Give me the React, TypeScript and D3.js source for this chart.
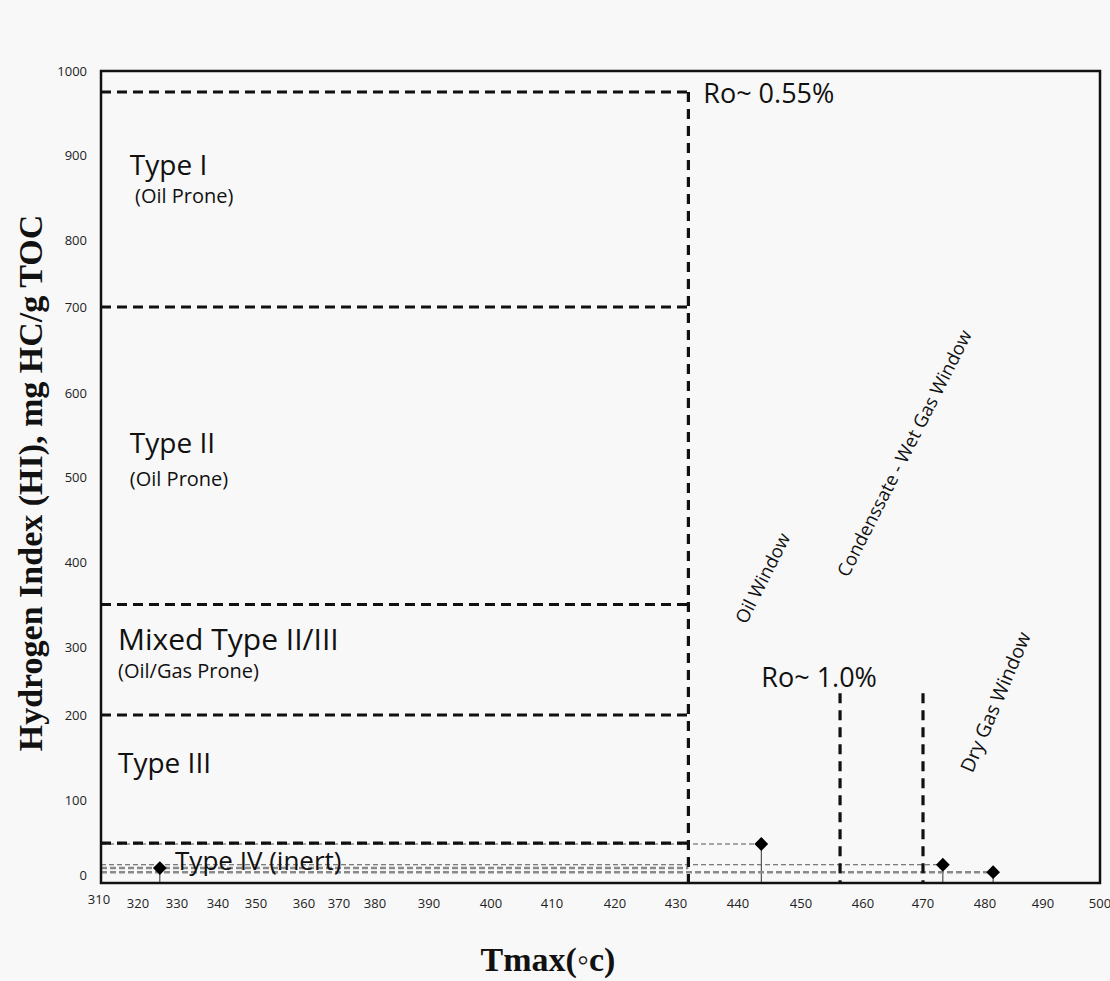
import React from 'react';
import * as d3 from 'd3';

// ---------- data ----------
const xTickValues = [310, 320, 330, 340, 350, 360, 370, 380, 390, 400, 410, 420, 430, 440, 450, 460, 470, 480, 490, 500];
const yTickValues = [0, 100, 200, 300, 400, 500, 600, 700, 800, 900, 1000];

// kerogen type boundaries (HI, mg HC/g TOC)
const typeBoundaries = [975, 700, 350, 200, 48];
// Ro ~ 0.55% boundary (Tmax)
const roStartTmax = 432;
// Ro ~ 1.0% window boundaries (Tmax) and their top (HI)
const windowLinesTmax = [456.3, 470];
const windowLineTopHI = 232;

// samples
const sampleTmax = [325.6, 443.7, 473.2, 481.4];
const sampleHI = [18, 47, 22, 13];

// annotation texts
const typeLabels = ['Type I', 'Type II', 'Mixed Type II/III', 'Type III', 'Type IV (inert)'];
const typeSubLabels = ['(Oil Prone)', '(Oil Prone)', '(Oil/Gas Prone)'];
const windowLabels = ['Oil Window', 'Condenssate - Wet Gas Window', 'Dry Gas Window'];

// ---------- layout ----------
const W = 1110;
const H = 981;
const F = { left: 101, top: 71, right: 1100, bottom: 883 };
// hand-placed tick label positions of the original figure (px from frame left / bottom)
const xTickPx = [0, 37, 76, 117, 155, 203, 238, 274, 328, 390, 451, 514, 575, 637, 700, 762, 822, 884, 942, 999];
const yTickPx = [0, 83, 168, 236, 321, 406, 490, 576, 643, 728, 812];

// annotation anchors in data coordinates [Tmax, HI]
const typeLabelPos = [[317.8, 876], [317.8, 528], [314.6, 295], [314.6, 132], [329.5, 16]];
const typeLabelSize = [28, 28, 30, 28, 26];
const typeSubPos = [[319.2, 843], [317.8, 490], [314.6, 255]];
const windowLabelPos = [[441.3, 326], [457.6, 381], [478.0, 131]];
const windowLabelAngle = [-63, -63, -67];
const windowLabelSize = [18.5, 18.5, 19.5];

const FONT = "'Open Sans', 'DejaVu Sans', sans-serif";
const SERIF = "'Liberation Serif', 'Times New Roman', serif";

export default function App() {
  const x = d3.scaleLinear().domain(xTickValues).range(xTickPx.map((p) => F.left + p));
  const y = d3.scaleLinear().domain(yTickValues).range(yTickPx.map((p) => F.bottom - p));
  const diamond = d3.symbol(d3.symbolSquare, 95)() as string;

  const leaderStyles = [
    { stroke: '#8a8a8a', width: 2.5, dash: '6 3', toTmax: roStartTmax },
    { stroke: '#555', width: 1, dash: '5 3', toTmax: null },
    { stroke: '#555', width: 1, dash: '5 3', toTmax: null },
    { stroke: '#8a8a8a', width: 2.5, dash: '6 3', toTmax: null },
  ];

  return (
    <svg width={W} height={H} style={{ position: 'absolute', left: 0, top: 0, background: '#f8f8f8' }} fontFamily={FONT}>
      <rect x={0} y={0} width={W} height={H} fill="#f8f8f8" />

      {/* sample leader lines */}
      {sampleTmax.map((t, i) => {
        const st = leaderStyles[i];
        const xEnd = st.toTmax != null ? Math.max(x(st.toTmax), x(t)) : x(t);
        return (
          <g key={'ld' + i}>
            <line x1={F.left} x2={xEnd} y1={y(sampleHI[i])} y2={y(sampleHI[i])}
              stroke={st.stroke} strokeWidth={st.width} strokeDasharray={st.dash} />
            <line x1={x(t)} x2={x(t)} y1={y(sampleHI[i])} y2={F.bottom} stroke="#333" strokeWidth={1} />
          </g>
        );
      })}

      {/* kerogen type boundaries */}
      {typeBoundaries.map((hi, i) => (
        <line key={'tb' + i} x1={F.left} x2={x(roStartTmax)} y1={y(hi)} y2={y(hi)}
          stroke="#111" strokeWidth={3.2} strokeDasharray="10 6" />
      ))}
      <line x1={x(roStartTmax)} x2={x(roStartTmax)} y1={y(typeBoundaries[0])} y2={F.bottom}
        stroke="#111" strokeWidth={3.2} strokeDasharray="10 7" />
      {windowLinesTmax.map((t, i) => (
        <line key={'wl' + i} x1={x(t)} x2={x(t)} y1={y(windowLineTopHI)} y2={F.bottom}
          stroke="#111" strokeWidth={3.2} strokeDasharray="10 7" />
      ))}

      {/* samples */}
      {sampleTmax.map((t, i) => (
        <path key={'pt' + i} d={diamond} transform={`translate(${x(t)},${y(sampleHI[i])}) rotate(45)`} fill="#000" />
      ))}

      {/* frame */}
      <rect x={F.left} y={F.top} width={F.right - F.left} height={F.bottom - F.top} fill="none" stroke="#111" strokeWidth={2.5} />

      {/* x tick labels */}
      {xTickValues.map((v, i) => (
        <text key={'xt' + v} x={x(v) - (i === 0 ? 2 : 0)} y={i === 0 ? 904 : 908} fontSize={13} textAnchor="middle" fill="#222">{v}</text>
      ))}
      {/* y tick labels */}
      {yTickValues.map((v) => (
        <text key={'yt' + v} x={87} y={y(v) + (v === 0 ? -8 : 0)} dy="0.35em" fontSize={13} textAnchor="end" fill="#222">{v}</text>
      ))}

      {/* type labels */}
      {typeLabels.map((s, i) => (
        <text key={'tl' + i} x={x(typeLabelPos[i][0])} y={y(typeLabelPos[i][1])} fontSize={typeLabelSize[i]} fill="#111">{s}</text>
      ))}
      {typeSubLabels.map((s, i) => (
        <text key={'ts' + i} x={x(typeSubPos[i][0])} y={y(typeSubPos[i][1])} fontSize={20} fill="#111">{s}</text>
      ))}

      {/* Ro labels */}
      <text x={x(434.4)} y={y(962)} fontSize={27} fill="#111">Ro~ 0.55%</text>
      <text x={x(443.7)} y={y(241)} fontSize={27} fill="#111">Ro~ 1.0%</text>

      {/* window labels */}
      {windowLabels.map((s, i) => {
        const px = x(windowLabelPos[i][0]);
        const py = y(windowLabelPos[i][1]);
        return (
          <text key={'wl' + i} x={px} y={py} fontSize={windowLabelSize[i]} fill="#111" transform={`rotate(${windowLabelAngle[i]} ${px} ${py})`}>{s}</text>
        );
      })}

      {/* axis titles */}
      <text x={548} y={971} textAnchor="middle" fontFamily={SERIF} fontWeight="bold" fontSize={34} fill="#111">Tmax(◦c)</text>
      <text transform={`translate(42,483) rotate(-90)`} textAnchor="middle" fontFamily={SERIF} fontWeight="bold" fontSize={34} fill="#111">
        Hydrogen Index (HI), mg HC/g TOC
      </text>
    </svg>
  );
}
